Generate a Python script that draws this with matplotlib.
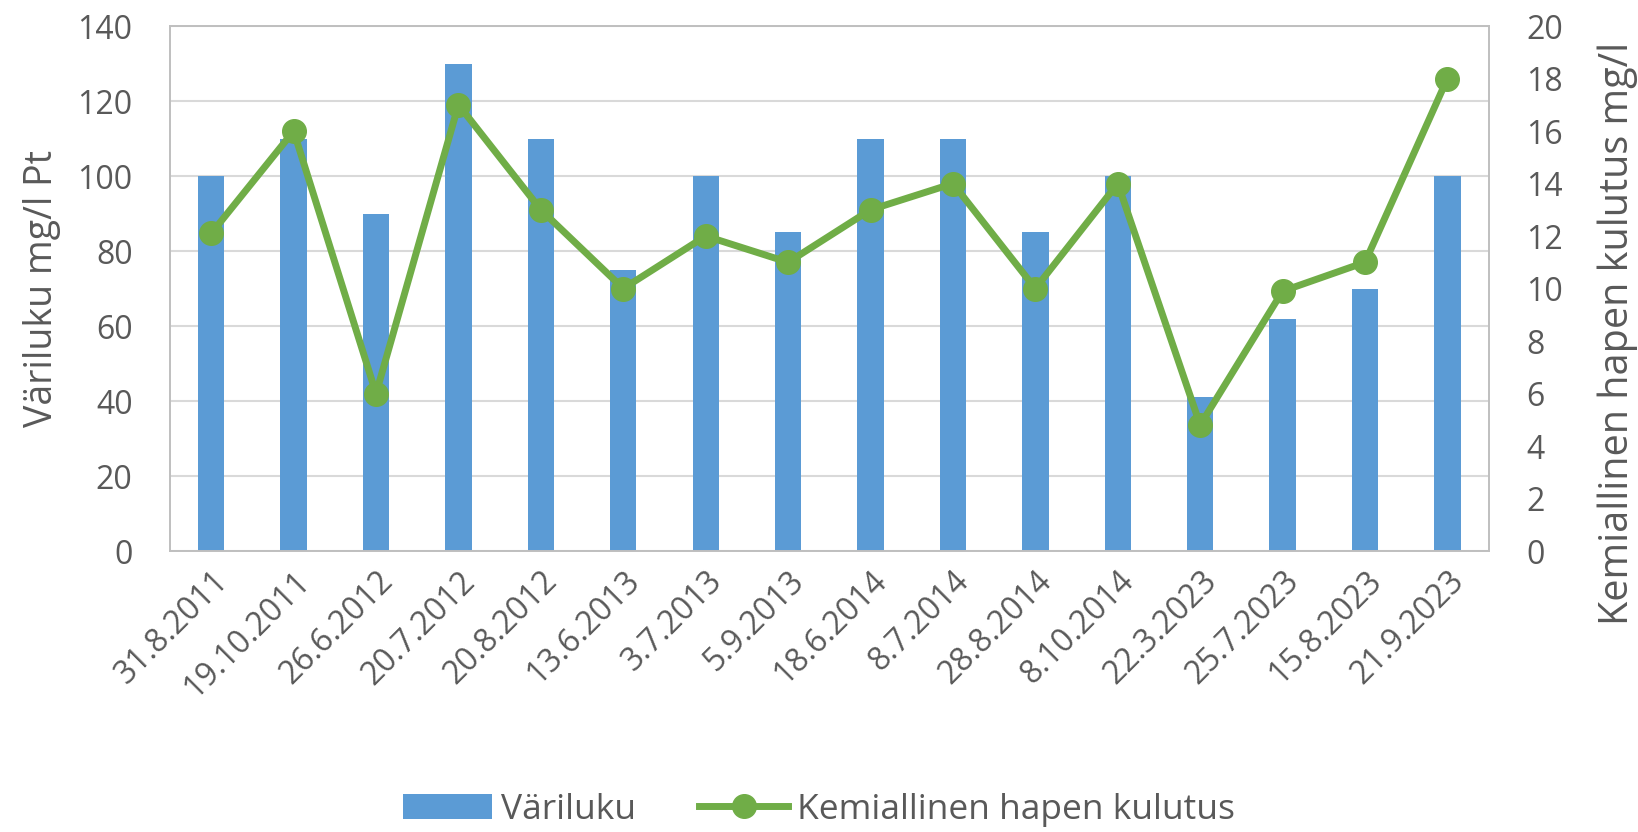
import numpy as np
import matplotlib.pyplot as plt

plt.rcParams['font.family'] = ['Open Sans', 'DejaVu Sans']

dates = ["31.8.2011", "19.10.2011", "26.6.2012", "20.7.2012", "20.8.2012",
         "13.6.2013", "3.7.2013", "5.9.2013", "18.6.2014", "8.7.2014",
         "28.8.2014", "8.10.2014", "22.3.2023", "25.7.2023", "15.8.2023",
         "21.9.2023"]
variluku = [100, 110, 90, 130, 110, 75, 100, 85, 110, 110, 85, 100, 41, 62, 70, 100]
khk = [12.1, 16, 6, 17, 13, 10, 12, 11, 13, 14, 10, 14, 4.8, 9.9, 11, 18]

text_col = "#595959"
bar_col = "#5B9BD5"
line_col = "#70AD47"

fig = plt.figure(figsize=(16.38, 8.32), dpi=100)
ax = fig.add_axes([0.1038, 0.3377, 0.805, 0.631])
x = np.arange(len(dates))

ax.bar(x, variluku, width=0.32, color=bar_col, label="Väriluku", zorder=2)
ax.set_ylim(0, 140)
ax.set_yticks(range(0, 141, 20))
ax.set_xlim(-0.5, len(dates) - 0.5)
ax.grid(axis="y", color="#D9D9D9", linewidth=1.5, zorder=0)
ax.set_xticks(x)
ax.set_xticklabels(dates, rotation=45, ha="right", rotation_mode="anchor")
ax.set_ylabel("Väriluku mg/l Pt", color=text_col, fontsize=27, labelpad=12)
ax.tick_params(axis="both", length=0, colors=text_col, labelsize=23)
ax.tick_params(axis="x", pad=10)
ax.tick_params(axis="y", pad=27)

ax2 = ax.twinx()
ax2.plot(x, khk, color=line_col, linewidth=5, marker="o", markersize=17,
         label="Kemiallinen hapen kulutus", zorder=3)
ax2.set_ylim(0, 20)
ax2.set_yticks(range(0, 21, 2))
ax2.set_ylabel("Kemiallinen hapen kulutus mg/l", color=text_col, fontsize=28.5)
# Excel puts this title a bit lower than the axis centre
ax2.yaxis.set_label_coords(1.0826, 0.415)
ax2.tick_params(axis="y", length=0, colors=text_col, labelsize=23, pad=27)

for a in (ax, ax2):
    for s in a.spines.values():
        s.set_color("#BFBFBF")
        s.set_linewidth(1.2)

h1, l1 = ax.get_legend_handles_labels()
h2, l2 = ax2.get_legend_handles_labels()
fig.legend(h1 + h2, l1 + l2, loc="center", bbox_to_anchor=(0.5, 0.027), ncol=2,
           frameon=False, fontsize=25.5, labelcolor=text_col, handlelength=2.5,
           handletextpad=0.25, columnspacing=1.8)

fig.savefig("out.png", dpi=100)
